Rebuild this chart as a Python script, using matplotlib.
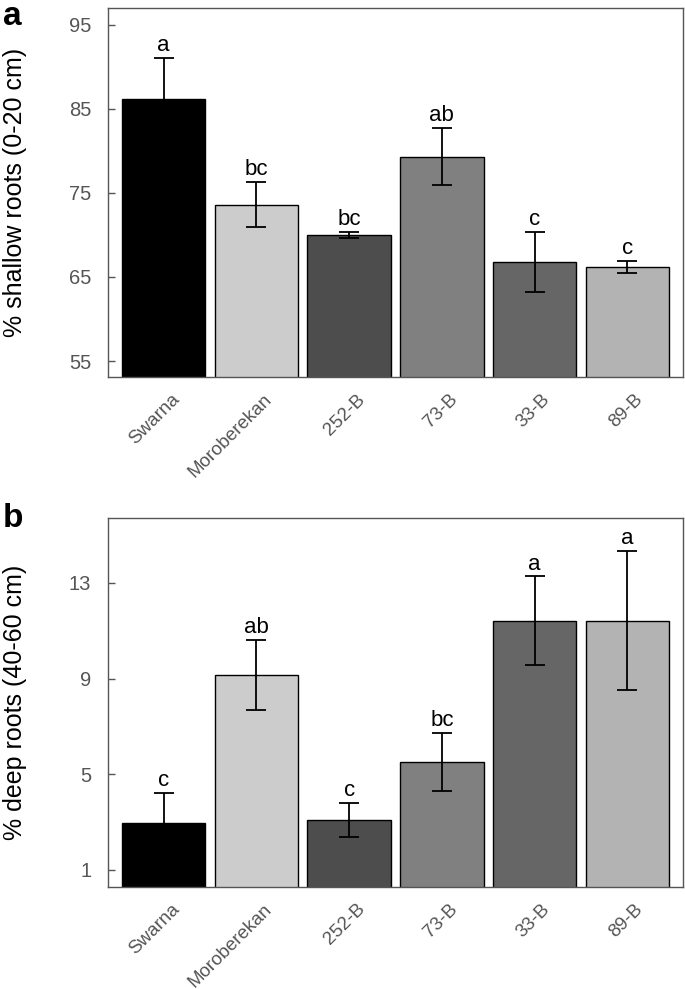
import numpy as np
import matplotlib
matplotlib.use("Agg")
import matplotlib.pyplot as plt
from matplotlib.transforms import offset_copy

plt.rcParams['font.family'] = ['Liberation Sans', 'DejaVu Sans']

lines = ["Swarna", "Moroberekan", "252-B", "73-B", "33-B", "89-B"]
bar_colors = ["#000000", "#cccccc", "#4d4d4d", "#808080", "#666666", "#b3b3b3"]

# panel a: % shallow roots (0-20 cm)
shallow_mean = [86.2, 73.6, 70.0, 79.3, 66.8, 66.2]
shallow_err = [4.8, 2.7, 0.4, 3.4, 3.6, 0.7]
shallow_letters = ["a", "bc", "bc", "ab", "c", "c"]

# panel b: % deep roots (40-60 cm)
deep_mean = [2.95, 9.15, 3.08, 5.5, 11.42, 11.42]
deep_err = [1.27, 1.47, 0.72, 1.21, 1.85, 2.9]
deep_letters = ["c", "ab", "c", "bc", "a", "a"]

grey = "#555555"


def draw_panel(ax, means, errs, letters, ylim, yticks, ylabel):
    x = np.arange(len(lines))
    ax.bar(x, means, width=0.9, color=bar_colors, edgecolor="black", linewidth=1.0, zorder=2)
    ax.errorbar(x, means, yerr=errs, fmt="none", ecolor="black", elinewidth=1.3,
                capsize=7, capthick=1.3, zorder=3)
    for xi, m, e, lab in zip(x, means, errs, letters):
        ax.annotate(lab, (xi, m + e), xytext=(0, 5), textcoords="offset points",
                    ha="center", va="baseline", fontsize=16, color="black")
    ax.set_xlim(-0.6, 5.6)
    ax.set_ylim(*ylim)
    ax.set_yticks(yticks)
    ax.set_xticks(x)
    ax.set_xticklabels([])
    ax.tick_params(axis="both", direction="in", colors=grey, labelsize=14.5,
                   length=5, width=1, pad=12)

    # rotated category labels, top-right end just right of each tick
    trans = offset_copy(ax.get_xaxis_transform(), fig=ax.figure, x=5, y=-10, units="points")
    for xi, name in zip(x, lines):
        ax.text(xi, 0, name, transform=trans, rotation=45,
                rotation_mode="anchor", ha="right", va="top", fontsize=13.5, color=grey)

    for sp in ax.spines.values():
        sp.set_color(grey)
        sp.set_linewidth(1.0)
    ax.set_ylabel(ylabel, fontsize=18, color="black")
    ax.yaxis.set_label_coords(-0.162, 0.5)
    ax.yaxis.label.set_va("center")


fig = plt.figure(figsize=(6.85, 9.89), dpi=100)
ax1 = fig.add_axes([0.1577, 0.6188, 0.8394, 0.3731])
ax2 = fig.add_axes([0.1577, 0.1034, 0.8394, 0.3725])

draw_panel(ax1, shallow_mean, shallow_err, shallow_letters, (53.1, 97.0),
           [55, 65, 75, 85, 95], "% shallow roots (0-20 cm)")
draw_panel(ax2, deep_mean, deep_err, deep_letters, (0.3, 15.7),
           [1, 5, 9, 13], "% deep roots (40-60 cm)")

fig.text(0.004, 0.9747, "a", fontsize=24, fontweight="bold", ha="left", va="baseline")
fig.text(0.004, 0.4671, "b", fontsize=24, fontweight="bold", ha="left", va="baseline")

fig.savefig("out.png", dpi=100)
